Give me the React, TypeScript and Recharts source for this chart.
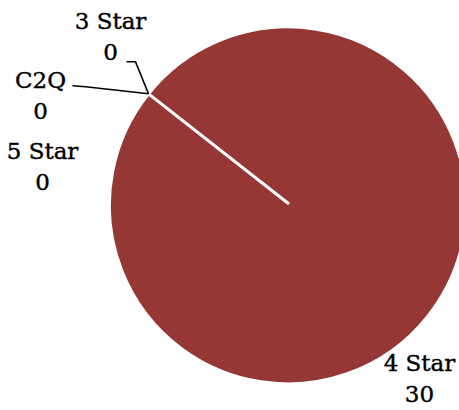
import { PieChart, Pie, Cell } from "recharts";

const categories = ["C2Q", "3 Star", "4 Star", "5 Star"];
const counts = [0, 0, 30, 0];

const data = categories.map((name, i) => ({ name, value: counts[i] }));

const RAD = Math.PI / 180;
const FONT = "'DejaVu Serif', serif";

// best-fit label placement, offsets from the slice's edge point
const labelLayout: Record<string, { dx: number; dy: number; leader?: number[][] }> = {
  "3 Star": { dx: -38, dy: -73, leader: [[-22, -32], [-13, -32], [0, 0]] },
  C2Q: { dx: -108, dy: -14, leader: [[-76, -8], [-63, -7], [0, 0]] },
  "5 Star": { dx: -106, dy: 57 },
  "4 Star": { dx: -10, dy: 49 },
};

const renderLabel = (props: any) => {
  const { cx, cy, midAngle, outerRadius, name, value } = props;
  const ex = cx + outerRadius * Math.cos(-midAngle * RAD);
  const ey = cy + outerRadius * Math.sin(-midAngle * RAD);
  const lay = labelLayout[name];
  const tx = ex + lay.dx;
  const ty = ey + lay.dy;
  return (
    <g key={name}>
      {lay.leader && (
        <polyline
          points={lay.leader.map(([x, y]) => `${ex + x},${ey + y}`).join(" ")}
          fill="none"
          stroke="#000"
          strokeWidth={1.5}
        />
      )}
      <text
        x={tx}
        y={ty}
        textAnchor="middle"
        dominantBaseline="central"
        fontFamily={FONT}
        fontSize={23}
        fill="#000"
        stroke="#000"
        strokeWidth={0.4}
      >
        <tspan x={tx} dy={0}>{name}</tspan>
        <tspan x={tx} dy={31}>{value}</tspan>
      </text>
    </g>
  );
};

export default function App() {
  return (
    <div style={{ position: "absolute", left: 0, top: 0 }}>
      <PieChart width={459} height={410} margin={{ top: 0, right: 0, bottom: 0, left: 0 }}>
        <Pie
          data={data}
          dataKey="value"
          nameKey="name"
          cx={289}
          cy={204}
          outerRadius={178.5}
          startAngle={141.9}
          endAngle={-218.1}
          stroke="#fff"
          strokeWidth={3}
          label={renderLabel}
          labelLine={false}
          isAnimationActive={false}
        >
          {data.map((d) => (
            <Cell key={d.name} fill="#943735" />
          ))}
        </Pie>
      </PieChart>
    </div>
  );
}
